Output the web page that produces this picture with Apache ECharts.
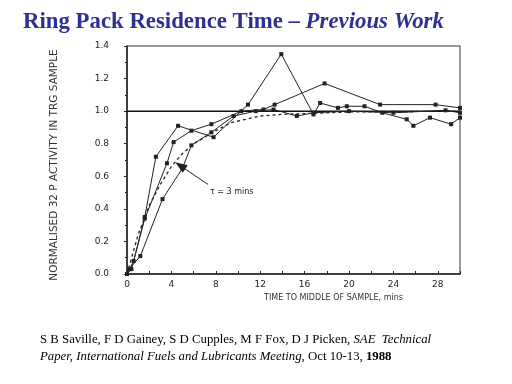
<!DOCTYPE html>
<html><head><meta charset="utf-8">
<script src="https://cdn.jsdelivr.net/npm/echarts@6/dist/echarts.min.js"></script>
<style>html,body{margin:0;padding:0;background:#fff}#c{width:512px;height:384px}</style>
</head><body><div id="c"></div>
<script>
const xTicks = [0, 4, 8, 12, 16, 20, 24, 28];
const yTicks = ['0.0','0.2','0.4','0.6','0.8','1.0','1.2','1.4'];
const seriesPeak = [[0,0],[0.6,0.08],[1.6,0.35],[2.6,0.72],[4.6,0.91],[7.8,0.84],[10.9,1.04],[13.9,1.35],[16.8,0.98],[17.4,1.05],[19,1.02],[19.8,1.03],[21.4,1.03],[23,0.99],[25.2,0.95],[25.8,0.91],[27.3,0.96],[29.2,0.92],[30,0.96]];
const seriesHump = [[0,0],[0.4,0.03],[1.6,0.34],[3.6,0.68],[4.2,0.81],[5.8,0.88],[7.6,0.92],[10.3,1.0],[12.3,1.01],[13.3,1.04],[17.8,1.17],[22.8,1.04],[27.8,1.04],[30,1.02]];
const seriesSlow = [[0.2,0.03],[1.2,0.11],[3.2,0.46],[5,0.65],[5.8,0.79],[7.6,0.87],[9.6,0.97],[11.6,1.0],[13.2,1.01],[15.3,0.97],[16.8,0.99],[20,1.0],[24,0.99],[28.7,1.005],[30,0.99]];
const modelCurve = [[0,0],[1,0.24],[2,0.42],[3,0.55],[4,0.66],[5,0.74],[6,0.8],[8,0.88],[9.4,0.93],[12,0.97],[14,0.98],[20,0.995],[30,1.0]];
const refLine = [[0,1],[30,1]];
const ink = '#222';

const chart = echarts.init(document.getElementById('c'));
const lineSeries = (data, extra) => Object.assign({
  type: 'line', data, symbol: 'rect', symbolSize: 4, showSymbol: true,
  lineStyle: {color: ink, width: 1}, itemStyle: {color: ink}, animation: false, z: 3
}, extra || {});

chart.setOption({
  animation: false,
  backgroundColor: '#fff',
  title: [{
    text: '{a|Ring Pack Residence Time – }{b|Previous Work}',
    left: 18, top: 6,
    textStyle: {rich: {
      a: {fontFamily: 'Liberation Serif', fontWeight: 'bold', fontSize: 22.8, color: '#2e3192'},
      b: {fontFamily: 'Liberation Serif', fontWeight: 'bold', fontStyle: 'italic', fontSize: 22.8, color: '#2e3192'}
    }}
  }, {
    text: '{n|S B Saville, F D Gainey, S D Cupples, M F Fox, D J Picken, }{i|SAE  Technical}\n{i|Paper, International Fuels and Lubricants Meeting}{n|, Oct 10-13, }{bd|1988}',
    left: 35, top: 326,
    textStyle: {fontWeight: 'normal', rich: {
      n: {fontFamily: 'Liberation Serif', fontWeight: 'normal', fontSize: 12.8, color: '#000', lineHeight: 17},
      i: {fontFamily: 'Liberation Serif', fontWeight: 'normal', fontSize: 12.8, fontStyle: 'italic', color: '#000', lineHeight: 17},
      bd: {fontFamily: 'Liberation Serif', fontSize: 12.8, fontWeight: 'bold', color: '#000', lineHeight: 17}
    }}
  }],
  grid: {left: 127, right: 52, top: 46, bottom: 110, show: true, borderColor: '#333', borderWidth: 1},
  xAxis: {
    type: 'value', min: 0, max: 30, interval: 2,
    name: 'TIME TO MIDDLE OF SAMPLE, mins', nameLocation: 'middle', nameGap: 20,
    nameTextStyle: {fontFamily: 'DejaVu Sans', fontSize: 8, color: '#333', padding: [0, 0, 0, 80]},
    axisLine: {show: true, lineStyle: {color: '#222', width: 1.5}},
    axisTick: {show: true, inside: true, length: 3, lineStyle: {color: '#222'}},
    splitLine: {show: false},
    axisLabel: {fontFamily: 'DejaVu Sans', fontSize: 9, color: '#222', margin: 6,
      formatter: v => xTicks.indexOf(v) >= 0 ? String(v) : ''}
  },
  yAxis: {
    type: 'value', min: 0, max: 1.4, interval: 0.2,
    name: 'NORMALISED 32 P ACTIVITY IN TRG SAMPLE', nameLocation: 'middle', nameGap: 67, nameRotate: 90,
    nameTextStyle: {fontFamily: 'DejaVu Sans', fontSize: 10.5, color: '#333', padding: [0, 0, 0, -10]},
    axisLine: {show: true, lineStyle: {color: '#222', width: 1.5}},
    axisTick: {show: true, length: 3, lineStyle: {color: '#222'}},
    minorTick: {show: true, splitNumber: 2, length: 2, lineStyle: {color: '#222'}},
    splitLine: {show: false},
    axisLabel: {fontFamily: 'DejaVu Sans', fontSize: 9, color: '#222', margin: 18,
      formatter: (v) => yTicks[Math.round(v / 0.2)] || ''}
  },
  series: [
    lineSeries(refLine, {symbol: 'none', lineStyle: {color: '#111', width: 1.5}, z: 2}),
    lineSeries(seriesPeak),
    lineSeries(seriesHump),
    lineSeries(seriesSlow),
    lineSeries(modelCurve, {symbol: 'none', lineStyle: {color: ink, width: 1.3, type: [3, 3]},
      markLine: {
        silent: true, symbol: ['none', 'triangle'], symbolSize: [9, 12],
        lineStyle: {color: ink, width: 1, type: 'solid'}, label: {show: false},
        data: [[{coord: [7.3, 0.55]}, {coord: [4.8, 0.665]}]]
      }})
  ],
  graphic: [{
    type: 'text', left: 210, top: 188,
    style: {text: 'τ = 3 mins', font: '8px "DejaVu Sans"', fill: '#222'}
  }]
});
</script></body></html>
